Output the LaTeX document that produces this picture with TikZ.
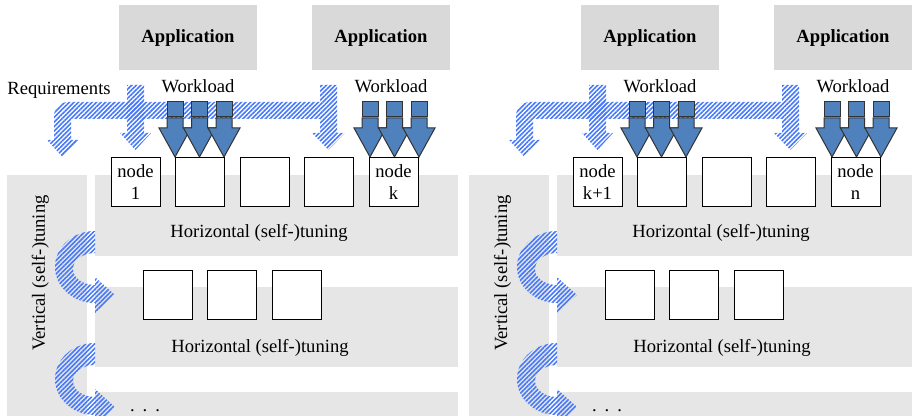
\documentclass[tikz,border=0pt]{standalone}
\usepackage{fontspec}
\setmainfont{Liberation Serif}
\usetikzlibrary{patterns.meta}

\definecolor{appgray}{RGB}{217,217,217}
\definecolor{bandgray}{RGB}{230,230,230}
\definecolor{loadblue}{RGB}{79,129,189}
\definecolor{hatchblue}{RGB}{70,120,250}

\begin{document}
\begin{tikzpicture}[
		x=0.5pt, y=-0.5pt,
		every node/.style={
			font=\fontsize{9.3pt}{11pt}\selectfont,
			inner sep=0pt,
		},
		app/.style={
			fill=appgray,
			minimum width=69pt, minimum height=32.5pt,
			font=\fontsize{9.3pt}{11pt}\selectfont\bfseries,
		},
		band/.style={
			fill=bandgray,
		},
		unit/.style={
			draw, fill=white, line width=0.5pt,
			minimum size=24.5pt, align=center,
		},
		hatched/.style={
			pattern={Lines[angle=45,distance=1.6pt,line width=0.8pt]},
			pattern color=hatchblue,
		},
		load/.style={
			fill=loadblue, draw=black!80, line width=0.5pt,
		},
	]
	\useasboundingbox (0,0) rectangle (912,416);
	\foreach \p/\dx/\first/\last in {a/0/1/k, b/462/k+1/n} {
		\begin{scope}[shift={(\dx,0)}]
			% layers
			\fill[band] (7,175) rectangle (87,416);
			\fill[band] (95,175) rectangle (458,256);
			\fill[band] (95,287) rectangle (458,367);
			\fill[band] (95,392) rectangle (458,416);

			\node[app] (appl\p) at (188,38) {Application};
			\node[app] (appr\p) at (381,38) {Application};
			\node[anchor=base] (wll\p) at (198,93) {Workload};
			\node[anchor=base] (wlr\p) at (391,93) {Workload};

			% requirements
			\path[hatched] (320,85) -- (337,85) -- (337,133) -- (345,133)
				-- (328.5,150) -- (312,133) -- (320,133) -- (320,119)
				-- (71,119) -- (71,140) -- (78,140) -- (62.5,157) -- (47,140)
				-- (54,140) -- (54,116) arc[start angle=180,end angle=270,radius=14]
				-- (320,102) -- cycle;
			\path[hatched] (127,85) -- (144,85) -- (144,133) -- (151,133)
				-- (135.5,150) -- (120,133) -- (127,133) -- cycle;

			% workload
			\foreach \wx in {167,191.5,216,362,386.5,411} {
				\draw[load] (\wx,102) rectangle (\wx+16,117);
				\draw[load] (\wx,118) -- (\wx+16,118) -- (\wx+16,128) -- (\wx+24,128)
					-- (\wx+8,157) -- (\wx-8,128) -- (\wx,128) -- cycle;
			}

			\node[unit] (u1\p) at (135.5,182.5) {node\\\first};
			\node[unit] (u2\p) at (200,182.5) {};
			\node[unit] (u3\p) at (264.5,182.5) {};
			\node[unit] (u4\p) at (329,182.5) {};
			\node[unit] (u5\p) at (393.5,182.5) {node\\\last};
			\node[unit] (v1\p) at (167.5,295) {};
			\node[unit] (v2\p) at (232,295) {};
			\node[unit] (v3\p) at (296.5,295) {};

			\node[anchor=base] (ht1\p) at (259,238) {Horizontal (self-)tuning};
			\node[anchor=base] (ht2\p) at (260,353) {Horizontal (self-)tuning};
			\node[anchor=base, rotate=90] (vt\p) at (45,273) {Vertical (self-)tuning};
			\node[anchor=base] (dots\p) at (145,412) {.\hspace{4pt}.\hspace{4pt}.};

			% vertical tuning
			\foreach \dy in {0,112} {
				\path[hatched, shift={(0,\dy)}] (95,231)
					arc[start angle=270,end angle=90,x radius=40,y radius=36]
					-- (95,313) -- (115,295) -- (95,277) -- (95,285)
					arc[start angle=90,end angle=270,x radius=22,y radius=16]
					-- cycle;
			}
		\end{scope}
	}
	\node[anchor=base] (req) at (59,95) {Requirements};
\end{tikzpicture}
\end{document}
